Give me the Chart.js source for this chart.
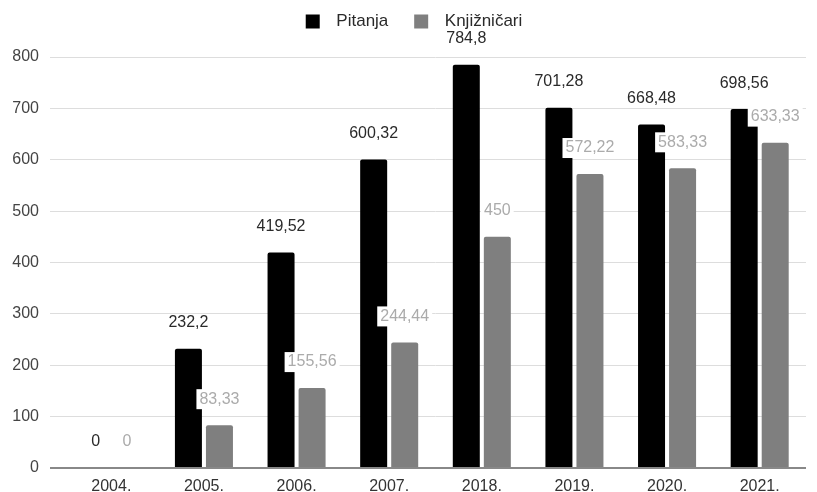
<!DOCTYPE html>
<html><head><meta charset="utf-8">
<script src="https://cdn.jsdelivr.net/npm/chart.js@4/dist/chart.umd.min.js"></script>
<style>html,body{margin:0;padding:0;background:#fff;overflow:hidden}#w{width:817px;height:492px;position:relative}</style>
</head><body><div id="w"><canvas id="c"></canvas></div>
<script>
const categories = ["2004.","2005.","2006.","2007.","2018.","2019.","2020.","2021."];
const seriesNames = ["Pitanja", "Knjižničari"];
const pitanja = [0, 232.2, 419.52, 600.32, 784.8, 701.28, 668.48, 698.56];
const knjiznicari = [0, 83.33, 155.56, 244.44, 450, 572.22, 583.33, 633.33];
const yTicks = [0,100,200,300,400,500,600,700,800];

const FONT = "'Liberation Sans', Arial, sans-serif";
const fmt = v => String(v).replace('.', ',');

const labelPlugin = {
  id: 'vals',
  beforeLayout(chart) {
    const lg = chart.legend;
    if (lg && !lg._patched) {
      const orig = lg.fit.bind(lg);
      lg.fit = function () { orig(); this.height = 57; };
      lg._patched = true;
    }
  },
  afterLayout(chart) {
    const lg = chart.legend;
    if (lg) { lg.left += 11; lg.right += 11; }
  },
  afterDatasetsDraw(chart) {
    const ctx = chart.ctx;
    ctx.save();
    ctx.font = "16px " + FONT;
    ctx.textAlign = 'center';
    ctx.textBaseline = 'middle';
    chart.data.datasets.forEach((ds, di) => {
      const meta = chart.getDatasetMeta(di);
      meta.data.forEach((bar, i) => {
        const t = fmt(ds.data[i]);
        const x = bar.x, y = bar.y - 26;
        if (di === 1) {
          const w = ctx.measureText(t).width + 6;
          ctx.fillStyle = '#fff';
          ctx.fillRect(x - w/2, y - 10, w, 20);
          ctx.fillStyle = '#ababab';
        } else {
          ctx.fillStyle = '#2a2a2a';
        }
        ctx.fillText(t, x, y);
      });
    });
    ctx.restore();
  }
};

new Chart(document.getElementById('c'), {
  type: 'bar',
  data: {
    labels: categories,
    datasets: [
      { label: seriesNames[0], data: pitanja, backgroundColor: '#000000', borderRadius: 2,
        categoryPercentage: 0.67, barPercentage: 0.87 },
      { label: seriesNames[1], data: knjiznicari, backgroundColor: '#7f7f7f', borderRadius: 2,
        categoryPercentage: 0.67, barPercentage: 0.87 }
    ]
  },
  options: {
    responsive: true, maintainAspectRatio: false, animation: false,
    devicePixelRatio: 1,
    layout: { padding: { left: 0, right: 11, top: 0, bottom: 0 } },
    plugins: {
      legend: {
        position: 'top', align: 'center',
        labels: {
          boxWidth: 14, boxHeight: 14, padding: 13, color: '#2a2a2a',
          font: { family: FONT, size: 17 },
          generateLabels: (chart) => {
            const items = Chart.defaults.plugins.legend.labels.generateLabels(chart);
            items.forEach((it, i) => {
              it.text = ' \u2009' + it.text + (i === 0 ? '  \u2009' : '');
              it.lineWidth = 0;
            });
            return items;
          }
        }
      },
      tooltip: { enabled: false }
    },
    scales: {
      x: {
        afterFit: s => { s.height = 24; },
        grid: { display: false, drawTicks: false },
        border: { display: false },
        ticks: { color: '#333', padding: 9, font: { family: FONT, size: 16 } }
      },
      y: {
        min: 0, max: 800,
        afterBuildTicks: s => { s.ticks = yTicks.map(v => ({ value: v })); },
        afterFit: s => { s.width = 65; },
        grid: { color: c => c.tick && c.tick.value === 0 ? '#888' : '#dddddd',
                lineWidth: c => c.tick && c.tick.value === 0 ? 2 : 1, tickLength: 15 },
        border: { display: false },
        ticks: { color: '#444', padding: 11, font: { family: FONT, size: 16 } }
      }
    }
  },
  plugins: [labelPlugin]
});
</script>
</body></html>
